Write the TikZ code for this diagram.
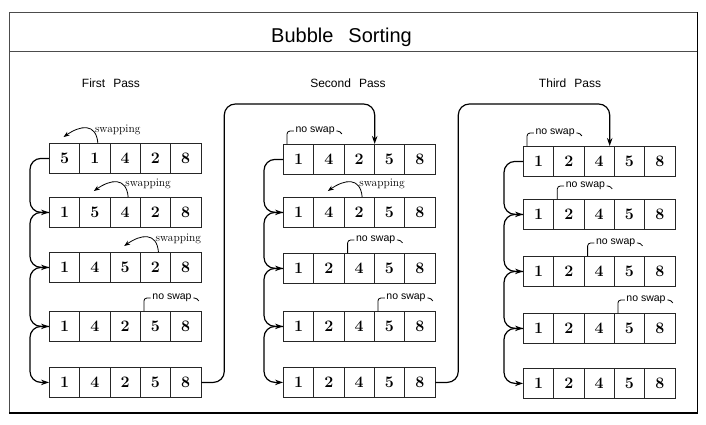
\documentclass[tikz,border=0pt]{standalone}
\usepackage{fontspec}
\usepackage{tikz}
\usetikzlibrary{arrows.meta, positioning, calc}
\newfontfamily\arialfont{Liberation Sans}
\tikzset{
  boxframe/.style  = {draw=black!70, line width=0.7pt},
  boxshadow/.style = {draw=black, line width=1.6pt},
  cell/.style      = {rectangle, draw=black!85, line width=0.8pt, minimum width=30.3pt,
                      minimum height=30pt, inner sep=0pt, anchor=north west,
                      font=\bfseries\fontsize{16}{16}\selectfont},
  titlelab/.style  = {font=\arialfont\fontsize{20}{20}\selectfont, anchor=base, inner sep=0pt},
  passlab/.style   = {font=\arialfont\fontsize{12}{12}\selectfont, anchor=base, inner sep=0pt},
  flow/.style      = {-{Stealth[length=8pt, width=5.5pt]}, line width=1.2pt, rounded corners=11pt},
  swaparc/.style   = {-{Stealth[length=6pt, width=4.5pt]}, line width=0.8pt},
  swaplab/.style   = {font=\fontsize{11.5}{11.5}\selectfont, anchor=base west, inner sep=0pt},
  nslab/.style     = {font=\arialfont\fontsize{10.5}{10.5}\selectfont, inner sep=1.5pt},
  nsline/.style    = {line width=0.8pt, rounded corners=3pt},
}
% one row of five cells: name, left, top, values
\newcommand{\cellrow}[4]{%
  \foreach \v [count=\i] in {#4}
    \node[cell] (#1-\i) at ({#2+(\i-1)*30.3}, -#3) {\v};
}
% row, cell that moves left, cell it lands on
\newcommand{\swapped}[3]{%
  \draw[swaparc] ([xshift=3pt]#1-#2.north) to[out=95, in=35, looseness=1.5]
    ([shift={(-1pt,6pt)}]#1-#3.north);
  \node[swaplab] (#1-sw) at ([shift={(0pt,11pt)}]#1-#2.north) {swapping};
}
% row, first of the two cells left alone
\newcommand{\noswap}[2]{%
  \node[nslab] (#1-ns) at ([shift={(1pt,13pt)}]#1-#2.north east) {no swap};
  \draw[nsline] ([xshift=4pt]#1-#2.north west) |- (#1-ns.west);
  \draw[nsline] (#1-ns.east) -- ++(4pt,0) -- ++(1.5pt,-3pt);
}

\begin{document}
\begin{tikzpicture}[x=1pt, y=1pt]
  \useasboundingbox (0,0) rectangle (706,-424);
  \draw[boxframe] (9,-12) rectangle (697,-412);
  \draw[boxshadow] (697.5,-12) -- (697.5,-412.8) -- (9,-412.8);
  \draw[boxframe] (9,-51) -- (697,-51);
  \node[titlelab] (title) at (341.5,-42) {Bubble\hspace{15pt}Sorting};

  \node[passlab] (first)  at (111,-87) {First\hspace{8pt}Pass};
  \node[passlab] (second) at (348,-87) {Second\hspace{8pt}Pass};
  \node[passlab] (third)  at (570,-87) {Third\hspace{8pt}Pass};

  \cellrow{p1r1}{49}{143}{5,1,4,2,8}
  \cellrow{p1r2}{49}{197}{1,5,4,2,8}
  \cellrow{p1r3}{49}{252}{1,4,5,2,8}
  \cellrow{p1r4}{49}{311}{1,4,2,5,8}
  \cellrow{p1r5}{49}{367}{1,4,2,5,8}

  \cellrow{p2r1}{283}{144}{1,4,2,5,8}
  \cellrow{p2r2}{283}{197}{1,4,2,5,8}
  \cellrow{p2r3}{283}{253}{1,2,4,5,8}
  \cellrow{p2r4}{283}{311}{1,2,4,5,8}
  \cellrow{p2r5}{283}{367}{1,2,4,5,8}

  \cellrow{p3r1}{523}{146}{1,2,4,5,8}
  \cellrow{p3r2}{523}{199}{1,2,4,5,8}
  \cellrow{p3r3}{523}{256}{1,2,4,5,8}
  \cellrow{p3r4}{523}{313}{1,2,4,5,8}
  \cellrow{p3r5}{523}{368}{1,2,4,5,8}

  \foreach \p in {1,2,3}
    \foreach \r/\n in {1/2,2/3,3/4,4/5}
      \draw[flow] (p\p r\r-1.west) -- ++(-19,0) |- (p\p r\n-1.west);

  \draw[flow] (p1r5-5.east) -- ++(23,0) |- ([yshift=40pt]p2r1-3.north east)
    -- (p2r1-3.north east);
  \draw[flow] (p2r5-5.east) -- ++(23,0) |- ([shift={(-5pt,42pt)}]p3r1-3.north east)
    -- ([xshift=-5pt]p3r1-3.north east);

  \swapped{p1r1}{2}{1}
  \swapped{p1r2}{3}{2}
  \swapped{p1r3}{4}{3}
  \noswap{p1r4}{4}
  \noswap{p2r1}{1}
  \swapped{p2r2}{3}{2}
  \noswap{p2r3}{3}
  \noswap{p2r4}{4}
  \noswap{p3r1}{1}
  \noswap{p3r2}{2}
  \noswap{p3r3}{3}
  \noswap{p3r4}{4}
\end{tikzpicture}
\end{document}
